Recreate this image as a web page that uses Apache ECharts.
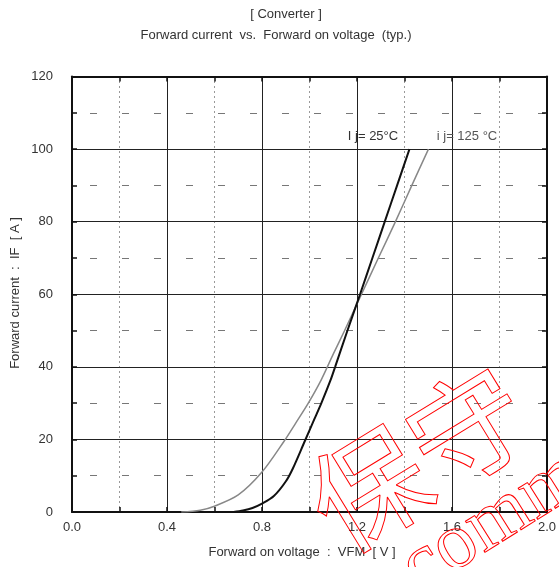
<!DOCTYPE html>
<html>
<head>
<meta charset="utf-8">
<script src="https://cdn.jsdelivr.net/npm/echarts@6/dist/echarts.min.js"></script>
<style>
  html, body { margin: 0; padding: 0; background: #fff; }
  #chart { width: 559px; height: 567px; }
</style>
</head>
<body>
<div id="chart"></div>
<script>
// 数据：[电压 V, 电流 A]
const vf25 = [0.68, 0.72, 0.76, 0.80, 0.85, 0.90, 0.93, 0.98, 1.02, 1.05, 1.089, 1.108, 1.16, 1.213, 1.265, 1.317, 1.369, 1.421];
const if25 = [0, 0.4, 1.1, 2.3, 4.4, 8.4, 12, 19.5, 25.5, 30, 36.4, 40, 50, 60, 70, 80, 90, 100];
const vf125 = [0.46, 0.54, 0.60, 0.70, 0.80, 0.893, 0.942, 0.995, 1.05, 1.10, 1.148, 1.219, 1.29, 1.362, 1.431, 1.501];
const if125 = [0, 0.5, 1.6, 4.7, 11, 19.5, 24.5, 30, 36.5, 43.5, 50, 60, 70, 80, 90, 100];
const xTicks = ['0.0', '0.4', '0.8', '1.2', '1.6', '2.0'];
const yTicks = [0, 20, 40, 60, 80, 100, 120];

const FONT = '"Liberation Sans", Arial, sans-serif';
const TXT = '#333';

function pairs(xs, ys) {
    return xs.map((x, i) => [x, ys[i]]);
}

const chart = echarts.init(document.getElementById('chart'));

function makeAxis(kind, pos, main) {
    const isX = kind === 'x';
    return {
        type: 'value',
        position: pos,
        min: 0,
        max: isX ? 2 : yTicks[yTicks.length - 1],
        interval: isX ? 0.4 : 20,
        axisLine: { show: true, onZero: false, lineStyle: { color: '#111', width: 2 } },
        axisTick: { show: true, inside: true, length: 5, lineStyle: { color: '#111', width: 1.5 } },
        minorTick: { show: true, splitNumber: 2, length: 5, lineStyle: { color: '#111', width: 1.5 } },
        axisLabel: {
            show: main,
            color: TXT,
            fontFamily: FONT,
            fontSize: 13,
            margin: isX ? 9 : 19,
            formatter: v => isX ? xTicks[Math.round(v / 0.4)] : String(v)
        },
        splitLine: { show: main, lineStyle: { color: '#222', width: 1 } },
        minorSplitLine: {
            show: main,
            lineStyle: isX
                ? { color: '#333', width: 1, type: [1, 4] }
                : { color: '#777', width: 1, type: [7, 25], dashOffset: 14 }
        }
    };
}

const option = {
    backgroundColor: '#fff',
    animation: false,
    grid: { left: 72, right: 10, top: 76.5, bottom: 55, containLabel: false },
    xAxis: [makeAxis('x', 'bottom', true), makeAxis('x', 'top', false)],
    yAxis: [makeAxis('y', 'left', true), makeAxis('y', 'right', false)],
    series: [
        {
            name: 'Tj=25',
            type: 'line',
            data: pairs(vf25, if25),
            smooth: 0.3,
            showSymbol: false,
            lineStyle: { color: '#111', width: 2 },
            z: 3
        },
        {
            name: 'Tj=125',
            type: 'line',
            data: pairs(vf125, if125),
            smooth: 0.3,
            showSymbol: false,
            lineStyle: { color: '#888', width: 1.5 },
            z: 2
        }
    ],
    graphic: [
        // 标题
        { type: 'text', x: 286, y: 14, style: { text: '[ Converter ]', font: '13px ' + FONT, fill: TXT, align: 'center', verticalAlign: 'middle' } },
        { type: 'text', x: 276, y: 35, style: { text: 'Forward current  vs.  Forward on voltage  (typ.)', font: '13px ' + FONT, fill: TXT, align: 'center', verticalAlign: 'middle' } },
        // 坐标轴名称
        { type: 'text', x: 302, y: 552, style: { text: 'Forward on voltage  :  VFM  [ V ]', font: '13px ' + FONT, fill: TXT, align: 'center', verticalAlign: 'middle' } },
        { type: 'text', x: 15, y: 293, rotation: Math.PI / 2, style: { text: 'Forward current  :  IF  [ A ]', font: '13px ' + FONT, fill: TXT, align: 'center', verticalAlign: 'middle' } },
        // 曲线标注
        { type: 'text', x: 373, y: 136, z: 10, style: { text: 'I j= 25°C', font: '13px ' + FONT, fill: TXT, align: 'center', verticalAlign: 'middle' } },
        { type: 'text', x: 467, y: 136, z: 10, style: { text: 'i j= 125 °C', font: '13px ' + FONT, fill: '#555', align: 'center', verticalAlign: 'middle' } },
        // 水印
        { type: 'text', x: 418, y: 458, rotation: 0.55, z: 20, silent: true, style: { text: '保守', font: '116px "Noto Sans CJK SC"', fill: 'none', stroke: '#f00', lineWidth: 1, align: 'center', verticalAlign: 'middle' } },
        { type: 'text', x: 478, y: 532, rotation: 0.56, z: 20, silent: true, style: { text: 'ecomm', font: '80px "Liberation Serif", serif', fill: 'none', stroke: '#f00', lineWidth: 1, align: 'center', verticalAlign: 'middle' } }
    ]
};

chart.setOption(option);
</script>
</body>
</html>
